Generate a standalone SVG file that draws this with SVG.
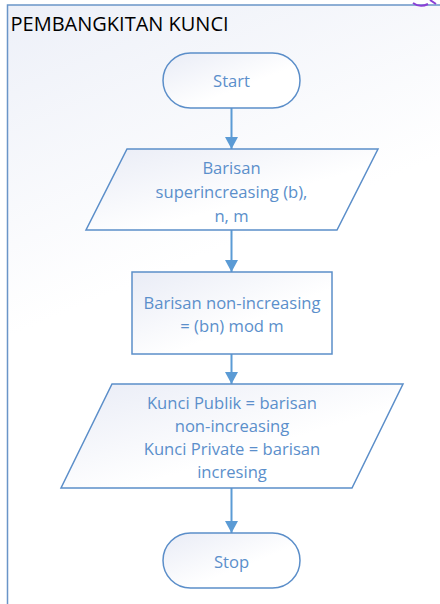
<svg xmlns="http://www.w3.org/2000/svg" width="440" height="604" viewBox="0 0 440 604">
<defs>
<linearGradient id="bg" x1="0" y1="0" x2="0.3" y2="1">
<stop offset="0" stop-color="#edf0f8"/>
<stop offset="0.5" stop-color="#ffffff"/>
<stop offset="1" stop-color="#ffffff"/>
</linearGradient>
<linearGradient id="sh" x1="0" y1="0" x2="1" y2="1">
<stop offset="0" stop-color="#e9ecf6"/>
<stop offset="0.6" stop-color="#ffffff"/>
</linearGradient>
<marker id="ah" viewBox="0 0 12 13" refX="12" refY="6.5" markerWidth="12" markerHeight="13" markerUnits="userSpaceOnUse" orient="auto">
<path d="M0,0 L12,6.5 L0,13 Z" fill="#5b9bd5"/>
</marker>
<style>
.shape{fill:url(#sh);stroke:#5b8ec9;stroke-width:1.5}
.lbl{font-family:"Open Sans","Liberation Sans",sans-serif;font-size:16.6px;fill:#5b8fcb;text-anchor:middle;dominant-baseline:central}
.title{font-family:"Open Sans","Liberation Sans",sans-serif;font-size:20px;fill:#000}
.conn{stroke:#5b9bd5;stroke-width:2;fill:none;marker-end:url(#ah)}
</style>
</defs>
<rect x="0" y="0" width="440" height="604" fill="#ffffff"/>
<g id="frame">
<rect x="7.5" y="5" width="440" height="610" fill="url(#bg)" stroke="#6a95c8" stroke-width="1.5"/>
<text class="title" x="10.5" y="31">PEMBANGKITAN KUNCI</text>
</g>
<path d="M413,3 Q420,8 428,4 M430,0 L436,4" stroke="#8a3fd6" stroke-width="2" fill="none"/>
<g id="connectors">
<line class="conn" x1="231.5" y1="108" x2="231.5" y2="149"/>
<line class="conn" x1="231.5" y1="230" x2="231.5" y2="272"/>
<line class="conn" x1="231.5" y1="354" x2="231.5" y2="384"/>
<line class="conn" x1="231.5" y1="488" x2="231.5" y2="533"/>
</g>
<g id="start">
<rect class="shape" x="163" y="53" width="137" height="55" rx="27.5"/>
<text class="lbl" x="231.5" y="80.5">Start</text>
</g>
<g id="input1">
<polygon class="shape" points="127,149 378,149 337,230 86,230"/>
<text class="lbl" x="231.5" y="167.5">Barisan</text>
<text class="lbl" x="231.5" y="191.5">superincreasing (b),</text>
<text class="lbl" x="231.5" y="215">n, m</text>
</g>
<g id="process1">
<rect class="shape" x="132" y="272" width="200" height="82"/>
<text class="lbl" x="232" y="302.5">Barisan non-increasing</text>
<text class="lbl" x="232" y="325">= (bn) mod m</text>
</g>
<g id="output1">
<polygon class="shape" points="112,384 403,384 352,488 61,488"/>
<text class="lbl" x="232" y="402">Kunci Publik = barisan</text>
<text class="lbl" x="232" y="425">non-increasing</text>
<text class="lbl" x="232" y="448.5">Kunci Private = barisan</text>
<text class="lbl" x="232" y="471.5">incresing</text>
</g>
<g id="stop">
<rect class="shape" x="163" y="533" width="137" height="55" rx="27.5"/>
<text class="lbl" x="231.5" y="561.5">Stop</text>
</g>
</svg>
